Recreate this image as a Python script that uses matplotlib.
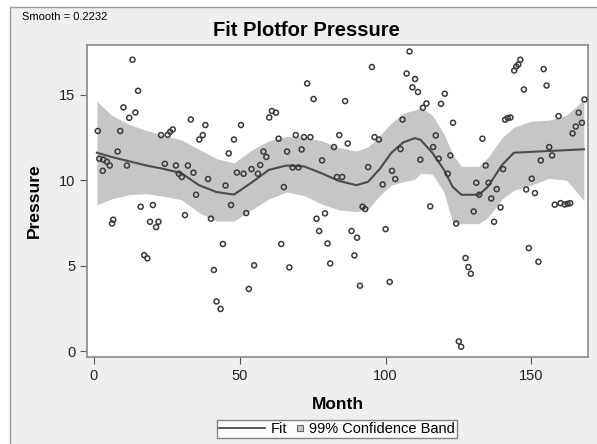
import numpy as np
import matplotlib
matplotlib.use("Agg")
import matplotlib.pyplot as plt
from matplotlib.lines import Line2D
from matplotlib.patches import Patch, Rectangle
from matplotlib.legend_handler import HandlerPatch

plt.rcParams['font.family'] = ['Liberation Sans', 'DejaVu Sans']

# observed points (Month, Pressure)
month = [1.3, 1.8, 3.2, 4.4, 5.4, 3.0, 6.2, 6.6, 8.1, 9.0, 10.1, 11.3, 12.1, 13.2, 14.2, 15.1,
         16.0, 17.2, 18.3, 19.2, 20.2, 21.3, 22.1, 23.0, 24.3, 25.3, 26.1, 27.0, 28.1, 29.1, 30.1,
         31.2, 32.2, 33.2, 34.1, 35.0, 36.1, 37.3, 38.2, 39.1, 40.1, 41.1, 42.0, 43.4, 44.2, 45.1,
         46.2, 47.0, 48.0, 49.0, 50.4, 51.3, 52.2, 53.1, 54.0, 54.9, 56.2, 57.0, 58.1, 59.1, 60.1,
         61.0, 62.4, 63.3, 64.2, 65.1, 66.2, 67.0, 68.1, 69.2, 70.1, 71.2, 72.0, 73.1, 74.2, 75.3,
         76.3, 77.2, 78.2, 79.2, 80.1, 81.0, 82.3, 83.3, 84.1, 85.1, 86.1, 87.0, 88.3, 89.3, 90.2,
         91.2, 92.1, 93.0, 94.0, 95.3, 96.2, 97.7, 99.0, 100.0, 101.4, 102.2, 103.3, 105.1, 105.8,
         107.2, 108.2, 109.2, 110.1, 111.1, 111.9, 112.8, 114.0, 115.3, 116.3, 117.2, 118.2, 119.0,
         120.3, 121.3, 122.2, 123.1, 124.2, 125.1, 125.9, 127.4, 128.4, 129.2, 130.2, 131.1, 132.1,
         133.2, 134.3, 135.3, 136.2, 137.2, 138.1, 139.4, 140.3, 141.0, 141.9, 142.8, 144.1, 144.8,
         145.5, 146.2, 147.4, 148.2, 149.1, 150.1, 151.2, 152.4, 153.2, 154.2, 155.2, 156.1, 157.1,
         158.0, 159.3, 160.0, 161.4, 162.4, 163.3, 164.1, 165.2, 166.2, 167.3, 168.2]
pressure = [12.87, 11.25, 11.19, 11.07, 10.85, 10.54, 7.46, 7.68, 11.67, 12.87, 14.25, 10.85,
            13.64, 17.04, 13.95, 15.22, 8.44, 5.61, 5.42, 7.56, 8.54, 7.25, 7.56, 12.63, 10.95,
            12.65, 12.82, 12.96, 10.85, 10.37, 10.18, 7.95, 10.85, 13.54, 10.43, 9.14, 12.37,
            12.63, 13.22, 10.06, 7.74, 4.74, 2.90, 2.46, 6.26, 9.68, 11.56, 8.54, 12.37, 10.44,
            13.22, 10.37, 8.07, 3.63, 10.64, 5.01, 10.37, 10.88, 11.67, 11.35, 13.66, 14.04,
            13.94, 12.42, 6.26, 9.59, 11.67, 4.89, 10.74, 12.63, 10.74, 11.79, 12.51, 15.65,
            12.51, 14.74, 7.74, 7.02, 11.15, 8.05, 6.29, 5.12, 11.93, 10.18, 12.63, 10.18, 14.62,
            12.14, 7.02, 5.59, 6.63, 3.82, 8.44, 8.30, 10.76, 16.61, 12.51, 12.37, 9.74, 7.13,
            4.04, 10.54, 10.06, 11.81, 13.54, 16.23, 17.52, 15.42, 15.91, 15.15, 11.19, 14.23,
            14.48, 8.46, 11.93, 12.61, 11.25, 14.46, 15.05, 10.37, 11.44, 13.35, 7.46, 0.56,
            0.25, 5.44, 4.91, 4.52, 8.16, 9.84, 9.14, 12.42, 10.85, 9.84, 8.92, 7.56, 9.47, 8.40,
            10.64, 13.53, 13.63, 13.66, 16.41, 16.64, 16.76, 17.04, 15.30, 9.45, 6.02, 10.08,
            9.24, 5.22, 11.15, 16.49, 15.53, 11.93, 11.44, 8.56, 13.74, 8.65, 8.57, 8.61, 8.65,
            12.73, 13.13, 13.94, 13.35, 14.71]

# loess fit and 99% confidence band
fit_x = [1, 6, 12, 18, 24, 30, 36, 42, 48, 54, 60, 66, 72, 78, 84, 90, 94, 98, 102, 106,
         110, 112, 116, 120, 123, 126, 132, 135, 140, 144, 150, 156, 162, 168]
fit_y = [11.6, 11.35, 11.1, 10.85, 10.65, 10.4, 9.7, 9.3, 9.15, 9.85, 10.6, 10.85, 10.8, 10.4,
         9.95, 9.7, 9.9, 10.65, 11.6, 12.2, 12.45, 12.35, 11.6, 10.6, 9.6, 9.14, 9.14, 9.6,
         10.9, 11.6, 11.65, 11.7, 11.75, 11.8]
upper = [14.6, 13.8, 13.25, 12.9, 12.6, 12.35, 11.8, 11.25, 11.0, 11.75, 12.3, 12.55, 12.5,
         12.3, 11.9, 11.7, 11.95, 12.6, 13.35, 13.9, 14.1, 14.25, 13.8, 12.7, 11.5, 10.8, 10.8,
         11.3, 12.5, 13.1, 13.45, 13.5, 13.8, 14.7]
lower = [8.55, 8.9, 9.15, 9.2, 9.05, 8.85, 8.1, 7.6, 7.6, 8.25, 8.9, 9.3, 9.1, 8.6, 8.25, 8.15,
         8.3, 9.1, 9.7, 9.9, 10.05, 10.4, 10.35, 9.3, 7.5, 7.45, 7.45, 7.8, 8.9, 9.4, 9.7, 10.1,
         10.0, 8.8]

band_color = '#c6c6c6'
line_color = '#4a4a4a'

fig = plt.figure(figsize=(5.97, 4.44), dpi=100)
fig.patch.set_facecolor('white')
fig.patches.append(Rectangle((10 / 597, -0.05), 1.1, 1 - 7 / 444 + 0.05, transform=fig.transFigure,
                             facecolor='#efefef', edgecolor='#9a9a9a', lw=1, zorder=-10))

ax = fig.add_axes([87 / 597, 1 - 357 / 444, (588 - 87) / 597, (357 - 45) / 444])
ax.set_facecolor('white')

ax.fill_between(fit_x, lower, upper, color=band_color, lw=0, zorder=1)
ax.plot(fit_x, fit_y, color=line_color, lw=1.5, zorder=2)
ax.scatter(month, pressure, s=13, facecolors='none', edgecolors='#3a3a3a', linewidths=1.1, zorder=3)

ax.set_xlim(-2.4, 169.4)
ax.set_ylim(-0.35, 17.9)
ax.set_xticks([0, 50, 100, 150])
ax.set_yticks([0, 5, 10, 15])
ax.tick_params(labelsize=10.5, length=5, color='#555555', labelcolor='#222222')
for s in ax.spines.values():
    s.set_color('#8a8a8a')
    s.set_linewidth(1.2)

ax.set_xlabel('Month', fontsize=12.5, fontweight='bold', labelpad=10)
ax.set_ylabel('Pressure', fontsize=12.5, fontweight='bold', labelpad=12)

fig.text(306 / 597, 1 - 30 / 444, 'Fit Plotfor Pressure', ha='center', va='center',
         fontsize=14.5, fontweight='bold')
fig.text(22 / 597, 1 - 17 / 444, 'Smooth = 0.2232', ha='left', va='center', fontsize=8)


def small_square(legend, orig_handle, xdescent, ydescent, width, height, fontsize):
    side = 0.6 * height
    return Rectangle((-xdescent + width - side, -ydescent + (height - side) / 2), side, side)


handles = [Line2D([], [], color=line_color, lw=1.3),
           Patch(facecolor=band_color, edgecolor='#666666', lw=0.8)]
leg = fig.legend(handles, ['Fit', '99% Confidence Band'], loc='center', ncol=2,
                 bbox_to_anchor=(337 / 597, 1 - 429 / 444), fontsize=10.5, frameon=True,
                 fancybox=False, edgecolor='#666666', borderpad=0.15, handlelength=3.1,
                 handletextpad=0.4, columnspacing=-2.0, borderaxespad=0,
                 handler_map={Patch: HandlerPatch(patch_func=small_square)})
leg.get_frame().set_linewidth(1)

fig.savefig('out.png', dpi=100)
